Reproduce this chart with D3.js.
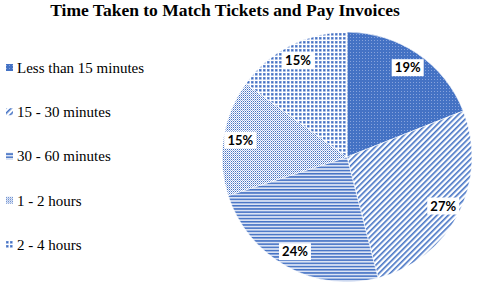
<!DOCTYPE html>
<html>
<head>
<meta charset="utf-8">
<script src="https://cdn.jsdelivr.net/npm/d3@7"></script>
<style>
  body { margin: 0; background: #fff; }
  svg { display: block; }
</style>
</head>
<body>
<svg id="chart" width="477" height="289"></svg>
<script>
const categories = ['Less than 15 minutes', '15 - 30 minutes', '30 - 60 minutes', '1 - 2 hours', '2 - 4 hours'];
const values = [19, 27, 24, 15, 15];
const patterns = ['dots', 'diag', 'horiz', 'fine', 'grid'];

const blue = '#4472c4';
const width = 477, height = 289;
const cx = 347, cy = 157, radius = 125;

const svg = d3.select('#chart');
const defs = svg.append('defs');

// pattern fills, roughly like the Excel ones
function makePattern(id) {
  let p;
  if (id === 'dots') {
    p = defs.append('pattern').attr('id', id).attr('patternUnits', 'userSpaceOnUse')
      .attr('width', 3).attr('height', 3);
    p.append('rect').attr('width', 3).attr('height', 3).attr('fill', blue);
    p.append('rect').attr('width', 1).attr('height', 1).attr('fill', '#87a3dc');
  } else if (id === 'diag') {
    p = defs.append('pattern').attr('id', id).attr('patternUnits', 'userSpaceOnUse')
      .attr('width', 4).attr('height', 4).attr('patternTransform', 'rotate(45)');
    p.append('rect').attr('width', 4).attr('height', 4).attr('fill', '#fff');
    p.append('rect').attr('width', 1.6).attr('height', 4).attr('fill', blue);
  } else if (id === 'horiz') {
    p = defs.append('pattern').attr('id', id).attr('patternUnits', 'userSpaceOnUse')
      .attr('width', 4).attr('height', 3.2);
    p.append('rect').attr('width', 4).attr('height', 3.2).attr('fill', '#dbe3f4');
    p.append('rect').attr('width', 4).attr('height', 1.5).attr('fill', blue);
  } else if (id === 'fine') {
    p = defs.append('pattern').attr('id', id).attr('patternUnits', 'userSpaceOnUse')
      .attr('width', 2).attr('height', 2);
    p.append('rect').attr('width', 2).attr('height', 2).attr('fill', '#fff');
    p.append('rect').attr('width', 1).attr('height', 1).attr('fill', blue);
    p.append('rect').attr('x', 1).attr('y', 1).attr('width', 1).attr('height', 1).attr('fill', '#9db3e2');
  } else {
    p = defs.append('pattern').attr('id', id).attr('patternUnits', 'userSpaceOnUse')
      .attr('width', 4).attr('height', 4);
    p.append('rect').attr('width', 4).attr('height', 4).attr('fill', '#fff');
    p.append('rect').attr('width', 2.6).attr('height', 2.6).attr('fill', '#6a8fd4');
    p.append('rect').attr('x', 0.8).attr('y', 0.8).attr('width', 1).attr('height', 1).attr('fill', '#2f5bb0');
  }
}
patterns.forEach(makePattern);

// Title
svg.append('text')
  .attr('x', 225)
  .attr('y', 16)
  .attr('text-anchor', 'middle')
  .style('font-family', '"Liberation Serif", "Times New Roman", serif')
  .style('font-weight', 'bold')
  .style('font-size', '17.5px')
  .text('Time Taken to Match Tickets and Pay Invoices');

// Pie
const pie = d3.pie().sort(null).value(d => d);
const arc = d3.arc().innerRadius(0).outerRadius(radius);
const labelArc = d3.arc().innerRadius(108).outerRadius(108);
const arcs = pie(values);

const g = svg.append('g').attr('transform', 'translate(' + cx + ',' + cy + ')');

g.selectAll('path.slice')
  .data(arcs)
  .enter()
  .append('path')
  .attr('class', 'slice')
  .attr('d', arc)
  .attr('fill', (d, i) => 'url(#' + patterns[i] + ')')
  .attr('stroke', '#fff')
  .attr('stroke-width', 0.6);

// data labels in white boxes
const labels = g.selectAll('g.label')
  .data(arcs)
  .enter()
  .append('g')
  .attr('class', 'label')
  .attr('transform', d => 'translate(' + labelArc.centroid(d) + ')');

labels.append('rect')
  .attr('x', -16)
  .attr('y', -8.5)
  .attr('width', 32)
  .attr('height', 17)
  .attr('fill', '#fff');

labels.append('text')
  .attr('text-anchor', 'middle')
  .attr('dy', '0.36em')
  .style('font-family', 'Lato, "Liberation Sans", sans-serif')
  .style('font-weight', 'bold')
  .style('font-size', '13px')
  .text(d => d.data + '%');

// Legend
const legendY = d3.scalePoint().domain(categories).range([68, 245]);

const legend = svg.selectAll('g.legend')
  .data(categories)
  .enter()
  .append('g')
  .attr('class', 'legend')
  .attr('transform', d => 'translate(6,' + legendY(d) + ')');

legend.append('rect')
  .attr('x', 0)
  .attr('y', -4)
  .attr('width', 7)
  .attr('height', 7)
  .attr('fill', (d, i) => 'url(#' + patterns[i] + ')');

legend.append('text')
  .attr('x', 11)
  .attr('y', 0)
  .attr('dy', '0.33em')
  .style('font-family', '"Liberation Serif", "Times New Roman", serif')
  .style('font-size', '15px')
  .text(d => d);
</script>
</body>
</html>
